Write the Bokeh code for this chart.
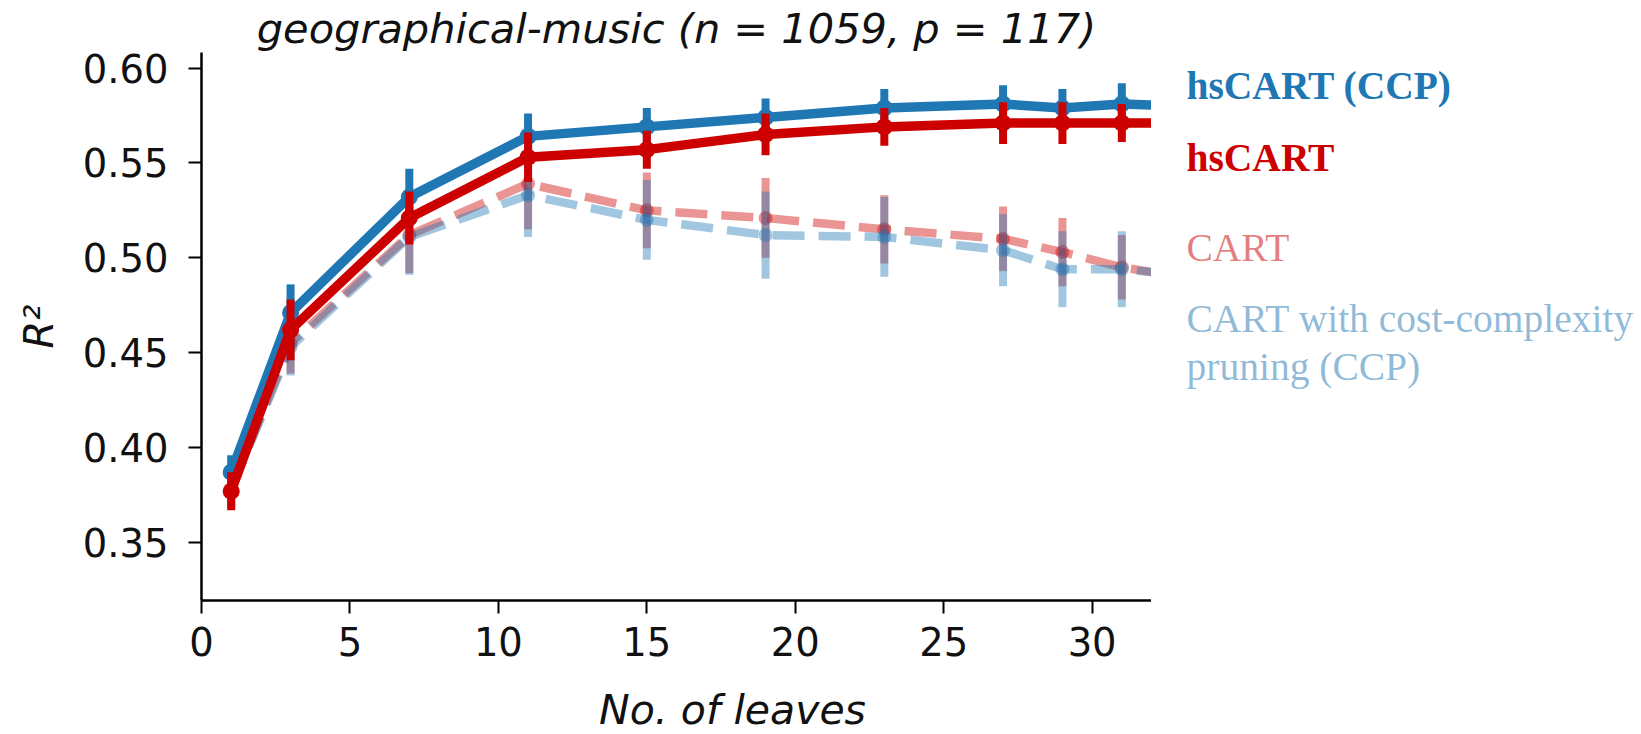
from bokeh.plotting import figure
from bokeh.models import Label, FixedTicker, ColumnDataSource, Range1d
from bokeh.layouts import row, column
from bokeh.embed import file_html
from bokeh.resources import INLINE

# ---- data ----
leaves = [1, 3, 7, 11, 15, 19, 23, 27, 29, 31, 33]
hscart_ccp = [0.387, 0.471, 0.532, 0.564, 0.569, 0.574, 0.579, 0.581, 0.579, 0.581, 0.580]
hscart_ccp_err = [0.009, 0.015, 0.015, 0.012, 0.010, 0.010, 0.010, 0.010, 0.010, 0.011, 0.010]
hscart = [0.377, 0.462, 0.521, 0.553, 0.557, 0.565, 0.569, 0.571, 0.571, 0.571, 0.571]
hscart_err = [0.010, 0.016, 0.014, 0.013, 0.010, 0.011, 0.010, 0.011, 0.011, 0.010, 0.010]
cart = [0.378, 0.455, 0.512, 0.539, 0.525, 0.521, 0.515, 0.510, 0.503, 0.495, 0.490]
cart_err = [0.010, 0.016, 0.020, 0.024, 0.020, 0.021, 0.018, 0.017, 0.018, 0.017, 0.017]
cart_ccp = [0.378, 0.453, 0.511, 0.533, 0.520, 0.512, 0.511, 0.504, 0.494, 0.494, 0.491]
cart_ccp_err = [0.010, 0.015, 0.020, 0.022, 0.021, 0.023, 0.021, 0.019, 0.020, 0.020, 0.020]

x_ticks = [0, 5, 10, 15, 20, 25, 30]
y_ticks = [0.35, 0.40, 0.45, 0.50, 0.55, 0.60]
y_tick_labels = {0.35: "0.35", 0.40: "0.40", 0.45: "0.45", 0.50: "0.50", 0.55: "0.55", 0.60: "0.60"}

title_text = "geographical-music (n = 1059, p = 117)"
x_label = "No. of leaves"
y_label = "R²"

BLUE = "#1f77b4"
RED = "#cc0000"

series = [
    # name, values, errors, colour, alpha, dashed
    ("CART", cart, cart_err, RED, 0.42, True),
    ("CART with cost-complexity pruning (CCP)", cart_ccp, cart_ccp_err, BLUE, 0.42, True),
    ("hsCART (CCP)", hscart_ccp, hscart_ccp_err, BLUE, 1.0, False),
    ("hsCART", hscart, hscart_err, RED, 1.0, False),
]

# legend text placed next to the line ends: (text, y value, colour, alpha, style)
legend_entries = [
    ("hsCART (CCP)", 0.5903, BLUE, 1.0, "bold"),
    ("hsCART", 0.5528, RED, 1.0, "bold"),
    ("CART", 0.5054, RED, 0.5, "normal"),
    ("CART with cost-complexity", 0.4675, BLUE, 0.5, "normal"),
    ("pruning (CCP)", 0.4427, BLUE, 0.5, "normal"),
]

yr = Range1d(0.3194, 0.6082)

p = figure(width=1151, height=674, x_range=(0, 32), y_range=yr,
           output_backend="svg", toolbar_location=None,
           min_border_left=201, min_border_right=0, min_border_top=52, min_border_bottom=74)

p.title.text = title_text
p.title.text_font = "DejaVu Sans"
p.title.text_font_style = "italic"
p.title.text_font_size = "41.5px"
p.title.text_color = "#111111"
p.title.align = "center"
p.title.standoff = 0
p.title.offset = 0

p.xgrid.visible = False
p.ygrid.visible = False
p.outline_line_color = None
p.background_fill_color = "white"
p.border_fill_color = "white"

for ax in (p.xaxis[0], p.yaxis[0]):
    ax.axis_line_width = 2.5
    ax.axis_line_color = "black"
    ax.major_tick_line_width = 2
    ax.major_tick_line_color = "black"
    ax.major_tick_out = 13
    ax.major_tick_in = 0
    ax.minor_tick_out = 0
    ax.minor_tick_in = 0
    ax.major_label_text_font = "DejaVu Sans"
    ax.major_label_text_font_size = "38.5px"
    ax.major_label_text_color = "#111111"
    ax.axis_label_text_font = "DejaVu Sans"
    ax.axis_label_text_font_style = "italic"
    ax.axis_label_text_color = "#111111"

p.xaxis.ticker = FixedTicker(ticks=x_ticks)
p.yaxis.ticker = FixedTicker(ticks=y_ticks)
p.yaxis.major_label_overrides = y_tick_labels
p.xaxis.major_label_standoff = 13
p.yaxis.major_label_standoff = 20
p.yaxis.axis_label = y_label
p.yaxis.axis_label_text_font_size = "40px"
p.yaxis.axis_label_standoff = 18

for name, vals, errs, col, alpha, dashed in series:
    lo = [v - e for v, e in zip(vals, errs)]
    hi = [v + e for v, e in zip(vals, errs)]
    src = ColumnDataSource(dict(x=leaves, y=vals, lo=lo, hi=hi))
    lw = 8.5 if dashed else 9.5
    p.line("x", "y", source=src, line_color=col, line_alpha=alpha, line_width=lw,
           line_dash=("32 14" if dashed else "solid"), line_join="round")
    p.segment(x0="x", y0="lo", x1="x", y1="hi", source=src, line_color=col,
              line_alpha=alpha, line_width=8)
    p.scatter("x", "y", source=src, size=(14 if dashed else 17), fill_color=col,
              fill_alpha=alpha, line_color=None)

# right-hand panel carrying the direct labels, sharing the y scale
q = figure(width=490, height=674, x_range=(0, 490), y_range=yr,
           output_backend="svg", toolbar_location=None,
           min_border_left=0, min_border_right=0, min_border_top=52, min_border_bottom=74)
q.axis.visible = False
q.grid.visible = False
q.outline_line_color = None
q.background_fill_color = "white"
q.border_fill_color = "white"
for txt, yv, col, alpha, style in legend_entries:
    q.add_layout(Label(x=35, y=yv, text=txt, text_color=col, text_alpha=alpha,
                       text_font="Liberation Serif", text_font_style=style,
                       text_font_size="39.5px", text_baseline="middle", text_align="left"))

# bottom strip carrying the x-axis title
r = figure(width=1641, height=60, x_range=(0, 1641), y_range=(0, 60),
           output_backend="svg", toolbar_location=None, title=None,
           min_border_left=0, min_border_right=0, min_border_top=0, min_border_bottom=0)
r.axis.visible = False
r.grid.visible = False
r.outline_line_color = None
r.background_fill_color = "white"
r.border_fill_color = "white"
r.add_layout(Label(x=732, y=25, text=x_label, text_color="#111111",
                   text_font="DejaVu Sans", text_font_style="italic",
                   text_font_size="41px", text_baseline="middle", text_align="center"))

layout = column(row(p, q, spacing=0), r, spacing=0)
open("out.html", "w").write(file_html(layout, INLINE))
